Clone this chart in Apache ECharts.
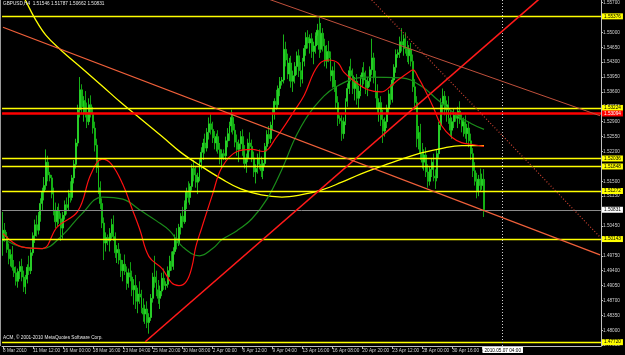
<!DOCTYPE html>
<html><head><meta charset="utf-8">
<script src="https://cdn.jsdelivr.net/npm/echarts@6/dist/echarts.min.js"></script>
<style>html,body{margin:0;padding:0;background:#000;}#c{width:625px;height:355px;}</style>
</head><body><div id="c"></div>
<script>
const symbolTitle = 'GBPUSD,H4  1.51546 1.51787 1.50662 1.50831';
const copyrightText = 'ACM, \u00A9 2001-2010 MetaQuotes Software Corp.';
const timeLabels = ['8 Mar 2010','11 Mar 12:00','16 Mar 00:00','18 Mar 16:00','23 Mar 04:00','25 Mar 20:00','30 Mar 08:00','2 Apr 00:00','6 Apr 12:00','9 Apr 04:00','13 Apr 16:00','16 Apr 08:00','20 Apr 20:00','23 Apr 12:00','28 Apr 00:00','30 Apr 16:00','5 May 04:00'];
const labelEvery = 16;
const barCount = 320;
const yTicks = [1.5570,1.5535,1.5500,1.5465,1.5430,1.5395,1.5360,1.5325,1.5290,1.5255,1.5220,1.5185,1.5150,1.5115,1.5080,1.5045,1.5010,1.4975,1.4940,1.4905,1.4870,1.4835,1.4800,1.4765];

const opens = [1.5010,1.5035,1.5020,1.4990,1.4968,1.4978,1.4948,1.4935,1.4915,1.4938,
1.4950,1.4925,1.4902,1.4920,1.4948,1.4940,1.4982,1.5022,1.5048,1.5035,
1.5070,1.5098,1.5125,1.5140,1.5195,1.5165,1.5158,1.5120,1.5082,1.5055,
1.5080,1.5062,1.5040,1.5070,1.5095,1.5088,1.5122,1.5112,1.5158,1.5190,
1.5240,1.5318,1.5365,1.5325,1.5340,1.5312,1.5290,1.5330,1.5310,1.5275,
1.5235,1.5182,1.5135,1.5098,1.5052,1.5005,1.5018,1.5010,1.5028,1.5048,
1.5020,1.4982,1.4990,1.4965,1.4940,1.4955,1.4938,1.4910,1.4935,1.4925,
1.4895,1.4905,1.4868,1.4885,1.4878,1.4852,1.4838,1.4850,1.4818,1.4830,
1.4875,1.4925,1.4912,1.4895,1.4875,1.4892,1.4922,1.4905,1.4908,1.4940,
1.4962,1.4950,1.4985,1.5015,1.5005,1.5042,1.5068,1.5055,1.5098,1.5125,
1.5112,1.5138,1.5180,1.5165,1.5148,1.5160,1.5195,1.5218,1.5240,1.5228,
1.5265,1.5285,1.5272,1.5252,1.5240,1.5255,1.5225,1.5205,1.5215,1.5210,
1.5245,1.5262,1.5280,1.5300,1.5270,1.5242,1.5225,1.5238,1.5255,1.5220,
1.5192,1.5205,1.5240,1.5232,1.5205,1.5172,1.5180,1.5205,1.5190,1.5175,
1.5192,1.5232,1.5260,1.5250,1.5282,1.5310,1.5338,1.5330,1.5368,1.5385,
1.5388,1.5460,1.5435,1.5402,1.5428,1.5385,1.5398,1.5420,1.5445,1.5410,
1.5390,1.5432,1.5462,1.5488,1.5475,1.5485,1.5455,1.5468,1.5492,1.5505,
1.5460,1.5498,1.5468,1.5432,1.5455,1.5440,1.5398,1.5410,1.5372,1.5335,
1.5298,1.5292,1.5262,1.5290,1.5338,1.5368,1.5410,1.5398,1.5368,1.5385,
1.5345,1.5362,1.5392,1.5405,1.5388,1.5370,1.5385,1.5412,1.5440,1.5395,
1.5360,1.5322,1.5335,1.5295,1.5268,1.5290,1.5322,1.5355,1.5342,1.5388,
1.5418,1.5448,1.5452,1.5478,1.5470,1.5485,1.5462,1.5445,1.5460,1.5432,
1.5372,1.5335,1.5250,1.5265,1.5215,1.5195,1.5212,1.5172,1.5150,1.5178,
1.5195,1.5162,1.5158,1.5215,1.5282,1.5330,1.5350,1.5318,1.5330,1.5298,
1.5270,1.5290,1.5305,1.5298,1.5315,1.5295,1.5280,1.5290,1.5262,1.5275,
1.5245,1.5215,1.5175,1.5150,1.5128,1.5155,1.5140,1.51546];

const highs = [1.5078,1.5052,1.5031,1.5004,1.4990,1.4998,1.4965,1.4950,1.4945,1.4962,
1.4968,1.4940,1.4930,1.4955,1.4975,1.4990,1.5030,1.5060,1.5070,1.5078,
1.5110,1.5135,1.5160,1.5225,1.5210,1.5172,1.5165,1.5135,1.5100,1.5090,
1.5098,1.5075,1.5078,1.5105,1.5112,1.5130,1.5150,1.5165,1.5200,1.5250,
1.5330,1.5395,1.5378,1.5350,1.5362,1.5335,1.5345,1.5352,1.5325,1.5290,
1.5250,1.5198,1.5150,1.5110,1.5065,1.5030,1.5025,1.5040,1.5062,1.5070,
1.5030,1.5000,1.5005,1.4980,1.4965,1.4978,1.4950,1.4945,1.4960,1.4940,
1.4920,1.4930,1.4900,1.4915,1.4895,1.4875,1.4860,1.4868,1.4840,1.4885,
1.4935,1.4975,1.4940,1.4918,1.4905,1.4935,1.4945,1.4915,1.4950,1.4975,
1.4985,1.4995,1.5025,1.5040,1.5050,1.5075,1.5090,1.5105,1.5135,1.5150,
1.5145,1.5190,1.5200,1.5185,1.5170,1.5205,1.5230,1.5250,1.5262,1.5275,
1.5300,1.5310,1.5290,1.5268,1.5262,1.5270,1.5240,1.5225,1.5225,1.5255,
1.5275,1.5290,1.5318,1.5312,1.5285,1.5260,1.5248,1.5268,1.5272,1.5235,
1.5215,1.5250,1.5265,1.5248,1.5220,1.5190,1.5215,1.5225,1.5208,1.5200,
1.5240,1.5270,1.5280,1.5290,1.5320,1.5345,1.5365,1.5375,1.5395,1.5395,
1.5495,1.5478,1.5450,1.5440,1.5445,1.5410,1.5430,1.5455,1.5460,1.5430,
1.5440,1.5470,1.5500,1.5505,1.5495,1.5498,1.5478,1.5500,1.5520,1.5535,
1.5522,1.5510,1.5485,1.5470,1.5480,1.5455,1.5420,1.5430,1.5388,1.5350,
1.5305,1.5305,1.5300,1.5345,1.5380,1.5420,1.5438,1.5415,1.5395,1.5402,
1.5375,1.5400,1.5418,1.5430,1.5410,1.5395,1.5420,1.5485,1.5452,1.5410,
1.5378,1.5345,1.5350,1.5318,1.5300,1.5330,1.5365,1.5378,1.5395,1.5425,
1.5460,1.5460,1.5490,1.5510,1.5495,1.5500,1.5480,1.5470,1.5475,1.5448,
1.5390,1.5350,1.5280,1.5285,1.5240,1.5225,1.5230,1.5190,1.5185,1.5205,
1.5215,1.5178,1.5225,1.5290,1.5345,1.5368,1.5362,1.5340,1.5350,1.5315,
1.5300,1.5320,1.5312,1.5325,1.5338,1.5310,1.5300,1.5305,1.5285,1.5290,
1.5262,1.5228,1.5195,1.5170,1.5165,1.5180,1.5168,1.51787];

const lows = [1.4975,1.5008,1.4982,1.4955,1.4950,1.4940,1.4925,1.4905,1.4900,1.4920,
1.4915,1.4890,1.4885,1.4910,1.4930,1.4932,1.4975,1.5005,1.5020,1.5025,
1.5055,1.5080,1.5105,1.5130,1.5150,1.5150,1.5110,1.5070,1.5040,1.5045,
1.5050,1.5010,1.5015,1.5060,1.5072,1.5080,1.5100,1.5105,1.5145,1.5180,
1.5232,1.5300,1.5310,1.5290,1.5300,1.5275,1.5282,1.5300,1.5262,1.5220,
1.5170,1.5120,1.5085,1.5040,1.4965,1.4985,1.5000,1.4985,1.5015,1.5010,
1.4970,1.4958,1.4955,1.4925,1.4915,1.4930,1.4895,1.4900,1.4915,1.4880,
1.4860,1.4850,1.4840,1.4862,1.4840,1.4820,1.4815,1.4805,1.4792,1.4822,
1.4865,1.4900,1.4880,1.4862,1.4850,1.4880,1.4895,1.4895,1.4900,1.4925,
1.4940,1.4942,1.4978,1.4990,1.4998,1.5025,1.5040,1.5050,1.5085,1.5100,
1.5095,1.5128,1.5150,1.5135,1.5120,1.5150,1.5178,1.5200,1.5215,1.5220,
1.5248,1.5260,1.5240,1.5225,1.5220,1.5215,1.5190,1.5180,1.5200,1.5200,
1.5230,1.5245,1.5265,1.5260,1.5230,1.5210,1.5195,1.5225,1.5210,1.5180,
1.5170,1.5195,1.5220,1.5195,1.5160,1.5145,1.5168,1.5178,1.5160,1.5155,
1.5185,1.5220,1.5238,1.5240,1.5270,1.5295,1.5318,1.5322,1.5350,1.5375,
1.5380,1.5420,1.5390,1.5385,1.5370,1.5360,1.5380,1.5400,1.5395,1.5372,
1.5380,1.5420,1.5445,1.5462,1.5450,1.5440,1.5425,1.5450,1.5470,1.5440,
1.5452,1.5455,1.5420,1.5415,1.5430,1.5385,1.5370,1.5360,1.5320,1.5280,
1.5285,1.5245,1.5250,1.5282,1.5325,1.5355,1.5385,1.5355,1.5340,1.5330,
1.5320,1.5350,1.5370,1.5378,1.5355,1.5350,1.5372,1.5400,1.5380,1.5345,
1.5310,1.5290,1.5280,1.5240,1.5255,1.5275,1.5310,1.5330,1.5335,1.5375,
1.5405,1.5440,1.5440,1.5455,1.5445,1.5450,1.5430,1.5425,1.5420,1.5360,
1.5318,1.5230,1.5225,1.5200,1.5180,1.5175,1.5160,1.5135,1.5140,1.5160,
1.5150,1.5132,1.5150,1.5205,1.5270,1.5310,1.5305,1.5290,1.5285,1.5255,
1.5250,1.5275,1.5290,1.5275,1.5285,1.5265,1.5255,1.5250,1.5240,1.5230,
1.5200,1.5160,1.5140,1.5110,1.5115,1.5125,1.5130,1.50662];

const closes = [1.5035,1.5020,1.4990,1.4968,1.4978,1.4948,1.4935,1.4915,1.4938,1.4950,
1.4925,1.4902,1.4920,1.4948,1.4940,1.4982,1.5022,1.5048,1.5035,1.5070,
1.5098,1.5125,1.5140,1.5195,1.5165,1.5158,1.5120,1.5082,1.5055,1.5080,
1.5062,1.5040,1.5070,1.5095,1.5088,1.5122,1.5112,1.5158,1.5190,1.5240,
1.5318,1.5365,1.5325,1.5340,1.5312,1.5290,1.5330,1.5310,1.5275,1.5235,
1.5182,1.5135,1.5098,1.5052,1.5005,1.5018,1.5010,1.5028,1.5048,1.5020,
1.4982,1.4990,1.4965,1.4940,1.4955,1.4938,1.4910,1.4935,1.4925,1.4895,
1.4905,1.4868,1.4885,1.4878,1.4852,1.4838,1.4850,1.4818,1.4830,1.4875,
1.4925,1.4912,1.4895,1.4875,1.4892,1.4922,1.4905,1.4908,1.4940,1.4962,
1.4950,1.4985,1.5015,1.5005,1.5042,1.5068,1.5055,1.5098,1.5125,1.5112,
1.5138,1.5180,1.5165,1.5148,1.5160,1.5195,1.5218,1.5240,1.5228,1.5265,
1.5285,1.5272,1.5252,1.5240,1.5255,1.5225,1.5205,1.5215,1.5210,1.5245,
1.5262,1.5280,1.5300,1.5270,1.5242,1.5225,1.5238,1.5255,1.5220,1.5192,
1.5205,1.5240,1.5232,1.5205,1.5172,1.5180,1.5205,1.5190,1.5175,1.5192,
1.5232,1.5260,1.5250,1.5282,1.5310,1.5338,1.5330,1.5368,1.5385,1.5388,
1.5460,1.5435,1.5402,1.5428,1.5385,1.5398,1.5420,1.5445,1.5410,1.5390,
1.5432,1.5462,1.5488,1.5475,1.5485,1.5455,1.5468,1.5492,1.5505,1.5460,
1.5498,1.5468,1.5432,1.5455,1.5440,1.5398,1.5410,1.5372,1.5335,1.5298,
1.5292,1.5262,1.5290,1.5338,1.5368,1.5410,1.5398,1.5368,1.5385,1.5345,
1.5362,1.5392,1.5405,1.5388,1.5370,1.5385,1.5412,1.5440,1.5395,1.5360,
1.5322,1.5335,1.5295,1.5268,1.5290,1.5322,1.5355,1.5342,1.5388,1.5418,
1.5448,1.5452,1.5478,1.5470,1.5485,1.5462,1.5445,1.5460,1.5432,1.5372,
1.5335,1.5250,1.5265,1.5215,1.5195,1.5212,1.5172,1.5150,1.5178,1.5195,
1.5162,1.5158,1.5215,1.5282,1.5330,1.5350,1.5318,1.5330,1.5298,1.5270,
1.5290,1.5305,1.5298,1.5315,1.5295,1.5280,1.5290,1.5262,1.5275,1.5245,
1.5215,1.5175,1.5150,1.5128,1.5155,1.5140,1.5155,1.50831];

// moving averages: [bar index, price]
const maYellow = [[9,1.5600],[12,1.5575],[17,1.5533],[23,1.5493],[31,1.5458],[42,1.5416],[53,1.5374],[63,1.5335],[74,1.5295],[85,1.5255],[95,1.5218],[106,1.5185],[117,1.5155],[127,1.5132],[138,1.5118],[149,1.5113],[159,1.5118],[170,1.5129],[181,1.5148],[191,1.5167],[202,1.5185],[213,1.5202],[223,1.5216],[234,1.5227],[245,1.5234],[257,1.5234]];
const maRed = [[0,1.5027],[10,1.4996],[21,1.4992],[29,1.5043],[40,1.5080],[47,1.5167],[53,1.5202],[58,1.5190],[64,1.5143],[69,1.5085],[73,1.5038],[78,1.4973],[85,1.4945],[90,1.4912],[94,1.4905],[98,1.4915],[101,1.4950],[103,1.4996],[106,1.5038],[112,1.5120],[117,1.5183],[125,1.5220],[133,1.5225],[139,1.5220],[146,1.5253],[156,1.5318],[161,1.5353],[166,1.5405],[170,1.5430],[174,1.5435],[179,1.5428],[182,1.5407],[188,1.5384],[195,1.5365],[202,1.5360],[208,1.5377],[211,1.5388],[217,1.5407],[219,1.5412],[222,1.5393],[226,1.5360],[230,1.5323],[234,1.5283],[240,1.5253],[245,1.5241],[250,1.5237],[257,1.5232]];
const maGreen = [[0,1.5015],[10,1.4996],[21,1.4992],[31,1.5020],[42,1.5073],[53,1.5113],[64,1.5108],[74,1.5080],[82,1.5057],[89,1.5034],[96,1.4996],[105,1.4975],[112,1.4992],[117,1.5013],[125,1.5034],[133,1.5062],[141,1.5108],[149,1.5178],[157,1.5260],[166,1.5323],[178,1.5372],[194,1.5395],[213,1.5393],[224,1.5372],[232,1.5342],[242,1.5307],[250,1.5286],[257,1.5272]];

// trend lines: [bar index, price]
const trendRed = [[76,1.4773],[300,1.5630]];
const trendLower = [[0,1.5512],[319,1.4977]];
const trendUpper = [[140,1.5581],[319,1.5304]];
const trendDotted = [[197,1.5576],[319,1.5019]];

// horizontal levels
const yellowLevels = [1.55376,1.53224,1.52036,1.51848,1.51272,1.50143,1.47720];
const redLevel = 1.53094;
const lastPrice = 1.50831;
const cursorIndex = 267;
const cursorLabel = '2010.05.07 04:00';

const font = '"Liberation Sans", Arial, sans-serif';
const fs = 4.7;
const cats = Array.from({length: barCount}, (_, i) => String(i));
const candles = opens.map((o, i) => [o, closes[i], lows[i], highs[i]]);
const showIdx = (i) => i % labelEvery === 0 && (i / labelEvery) < timeLabels.length;

function level(v, color, bg, fg, w) {
  return {
    yAxis: v,
    lineStyle: {color: color, width: w, type: 'solid'},
    label: {show: true, position: 'end', formatter: v.toFixed(5), backgroundColor: bg, color: fg,
      fontSize: fs, fontFamily: font, padding: [1, 2, 0, 2], distance: 1}
  };
}
const levelData = yellowLevels.map(v => level(v, '#ffff00', '#ffff00', '#000', 1.3));
levelData.push(level(redLevel, '#ff0000', '#ff0000', '#fff', 2.6));
levelData.push(level(lastPrice, '#8a8a8a', '#ffffff', '#000', 1));

const chart = echarts.init(document.getElementById('c'), null, {renderer: 'canvas'});
chart.setOption({
  backgroundColor: '#000000',
  animation: false,
  title: [
    {text: symbolTitle, left: 3, top: 1, padding: 0, textStyle: {color: '#e6e6e6', fontSize: fs, fontWeight: 'normal', fontFamily: font}},
    {text: copyrightText, left: 3, top: 335, padding: 0, textStyle: {color: '#e6e6e6', fontSize: fs, fontWeight: 'normal', fontFamily: font}}
  ],
  grid: {left: 0, right: 24, top: 0, bottom: 9, containLabel: false},
  xAxis: {
    type: 'category', data: cats, boundaryGap: true,
    axisLine: {show: true, lineStyle: {color: '#c0c0c0', width: 1}},
    axisTick: {show: true, alignWithLabel: true, interval: showIdx, length: 3, lineStyle: {color: '#c0c0c0'}},
    axisLabel: {interval: showIdx, formatter: (val, idx) => timeLabels[Math.round(idx / labelEvery)],
      align: 'left', margin: 2, color: '#d0d0d0', fontSize: fs, fontFamily: font},
    splitLine: {show: false}
  },
  yAxis: {
    type: 'value', position: 'right', min: 1.4763, max: 1.5576, scale: true,
    axisLine: {show: true, lineStyle: {color: '#c0c0c0', width: 1}},
    axisTick: {show: true, length: 2, customValues: yTicks, lineStyle: {color: '#c0c0c0'}},
    axisLabel: {customValues: yTicks, formatter: v => v.toFixed(5), margin: 2, color: '#d0d0d0', fontSize: fs, fontFamily: font},
    splitLine: {show: false}
  },
  graphic: [
    {type: 'line', shape: {x1: 0.5, y1: 0, x2: 0.5, y2: 346}, style: {stroke: '#9a9a9a', lineWidth: 1}, silent: true}
  ],
  series: [
    {type: 'line', data: [], silent: true, z: 2,
     markLine: {silent: true, precision: 6, symbol: ['none', 'none'], animation: false, data: levelData}},
    {type: 'candlestick', data: candles, barWidth: 1.4, z: 3, silent: true,
     itemStyle: {color: '#90ff90', color0: '#10b010', borderColor: '#20e020', borderColor0: '#18c818', borderWidth: 0.8}},
    {type: 'line', data: maYellow, showSymbol: false, smooth: 0.4, silent: true, z: 4, lineStyle: {color: '#ffff00', width: 1.3}},
    {type: 'line', data: maGreen, showSymbol: false, smooth: 0.4, silent: true, z: 4, lineStyle: {color: '#1a8c1a', width: 1.2}},
    {type: 'line', data: maRed, showSymbol: false, smooth: 0.4, silent: true, z: 4, lineStyle: {color: '#ff1010', width: 1.2}},
    {type: 'line', data: trendRed, showSymbol: false, silent: true, z: 5, lineStyle: {color: '#ff1a1a', width: 1.6}},
    {type: 'line', data: trendLower, showSymbol: false, silent: true, z: 5, lineStyle: {color: '#f0603a', width: 1.3}},
    {type: 'line', data: trendUpper, showSymbol: false, silent: true, z: 5, lineStyle: {color: '#c0503c', width: 1}},
    {type: 'line', data: trendDotted, showSymbol: false, silent: true, z: 5, lineStyle: {color: '#c84030', width: 1.2, type: [1, 2]}},
    {type: 'line', data: [], silent: true, z: 6,
     markLine: {silent: true, symbol: ['none', 'none'], animation: false,
       data: [{xAxis: cursorIndex, lineStyle: {color: '#d0d0d0', width: 1, type: [1, 2]},
         label: {show: true, position: 'start', formatter: cursorLabel, backgroundColor: '#ffffff', color: '#000',
           fontSize: fs, fontFamily: font, padding: [1, 2, 0, 2], distance: 1}}]}}
  ]
});
</script></body></html>
